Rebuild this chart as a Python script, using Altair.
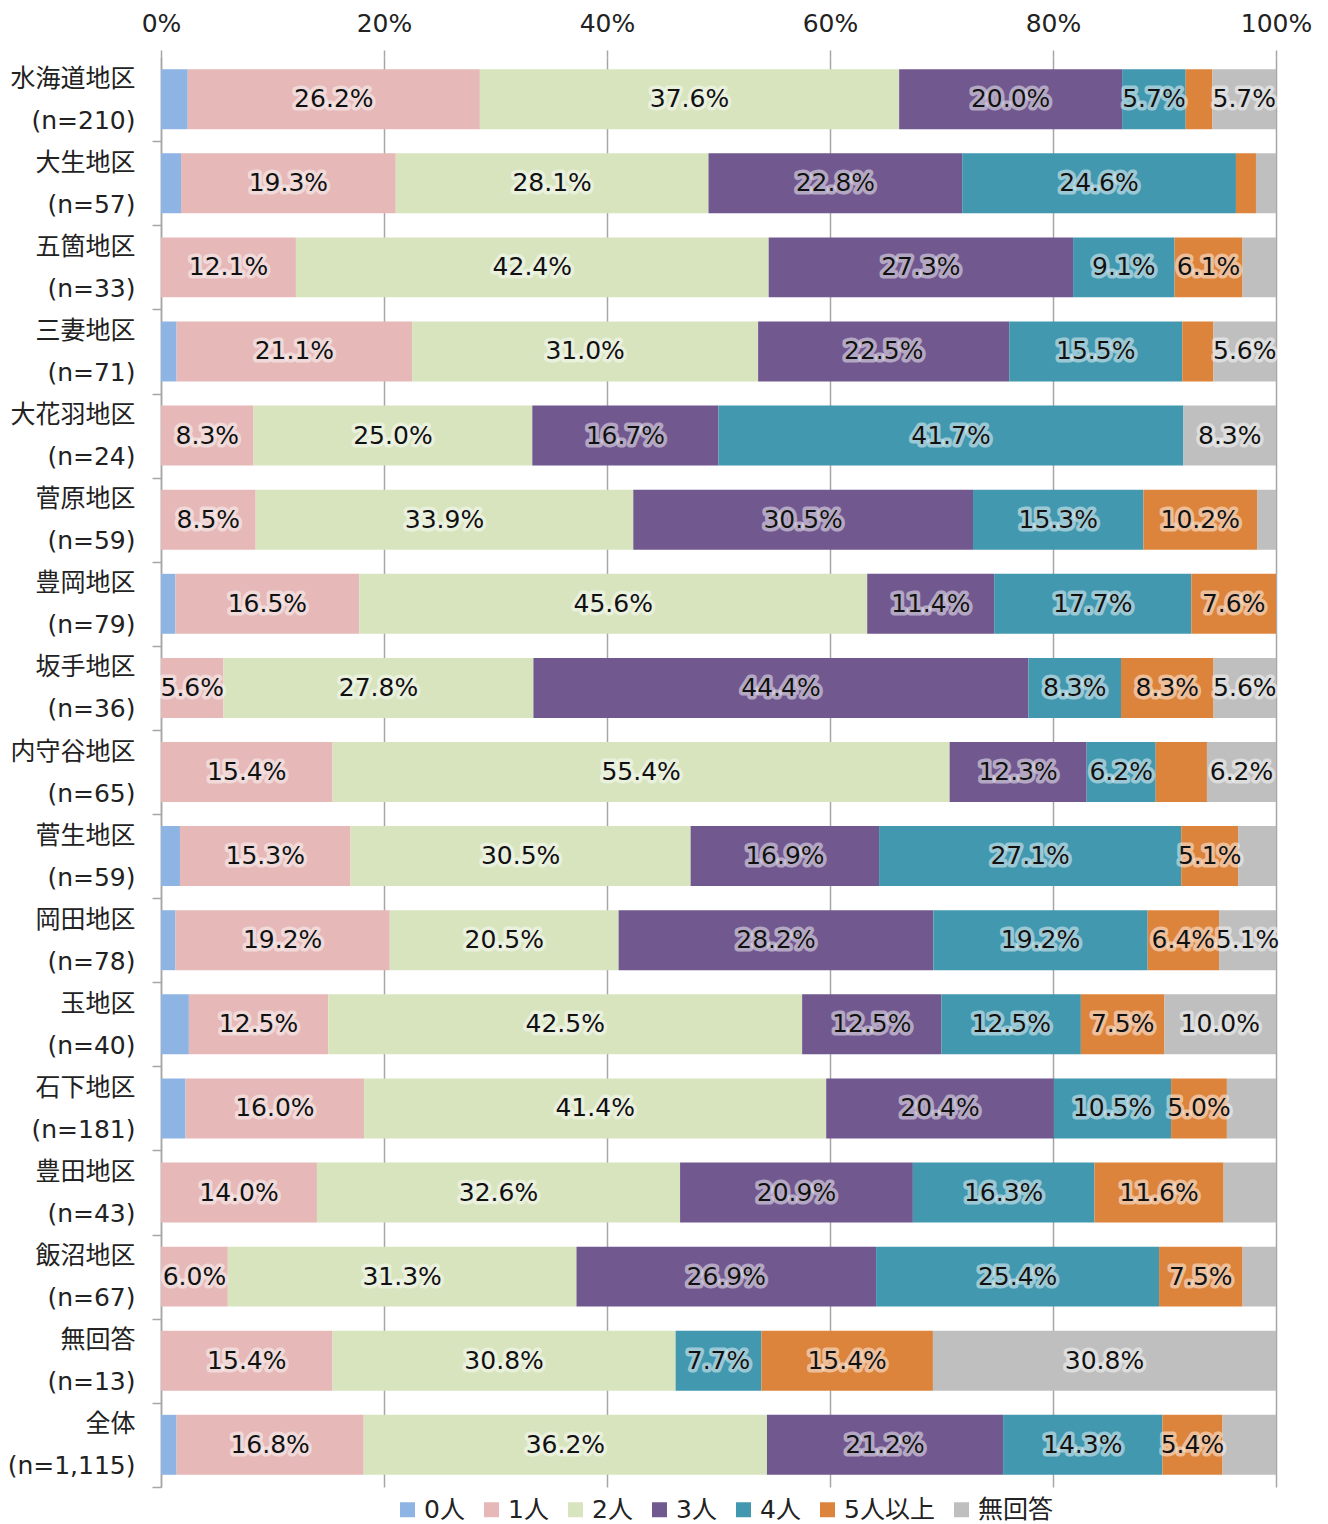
import altair as alt
import pandas as pd

districts = ["水海道地区", "大生地区", "五箇地区", "三妻地区", "大花羽地区", "菅原地区", "豊岡地区",
             "坂手地区", "内守谷地区", "菅生地区", "岡田地区", "玉地区", "石下地区", "豊田地区",
             "飯沼地区", "無回答", "全体"]
sample_sizes = ["210", "57", "33", "71", "24", "59", "79", "36", "65", "59", "78", "40", "181",
                "43", "67", "13", "1,115"]
groups = ["0人", "1人", "2人", "3人", "4人", "5人以上", "無回答"]
colors = ["#8EB4E3", "#E6B9B8", "#D7E4BD", "#71588F", "#4198AF", "#DD843C", "#BFBFBF"]

v0 = [2.4, 1.8, 0, 1.4, 0, 0, 1.3, 0, 0, 1.7, 1.3, 2.5, 2.2, 0, 0, 0, 1.4]
v1 = [26.2, 19.3, 12.1, 21.1, 8.3, 8.5, 16.5, 5.6, 15.4, 15.3, 19.2, 12.5, 16.0, 14.0, 6.0, 15.4, 16.8]
v2 = [37.6, 28.1, 42.4, 31.0, 25.0, 33.9, 45.6, 27.8, 55.4, 30.5, 20.5, 42.5, 41.4, 32.6, 31.3, 30.8, 36.2]
v3 = [20.0, 22.8, 27.3, 22.5, 16.7, 30.5, 11.4, 44.4, 12.3, 16.9, 28.2, 12.5, 20.4, 20.9, 26.9, 0, 21.2]
v4 = [5.7, 24.6, 9.1, 15.5, 41.7, 15.3, 17.7, 8.3, 6.2, 27.1, 19.2, 12.5, 10.5, 16.3, 25.4, 7.7, 14.3]
v5 = [2.4, 1.8, 6.1, 2.8, 0, 10.2, 7.6, 8.3, 4.6, 5.1, 6.4, 7.5, 5.0, 11.6, 7.5, 15.4, 5.4]
v6 = [5.7, 1.8, 3.0, 5.6, 8.3, 1.7, 0, 5.6, 6.2, 3.4, 5.1, 10.0, 4.4, 4.7, 3.0, 30.8, 4.8]

series = [v0, v1, v2, v3, v4, v5, v6]
cats = [f"{d}|(n={n})" for d, n in zip(districts, sample_sizes)]

rows = []
for i, cat in enumerate(cats):
    vals = [s[i] for s in series]
    total = sum(vals)
    cum = 0.0
    for j, g in enumerate(groups):
        v = vals[j]
        start = cum / total * 100
        cum += v
        end = cum / total * 100
        rows.append(dict(cat=cat, group=g, order=j, value=v, start=start, end=end,
                         mid=(start + end) / 2,
                         label=(f"{v:.1f}%" if v >= 5 else "")))
df = pd.DataFrame(rows)
df_bars = df[df.value > 0]
df_text = df[df.label != ""]

font = "DejaVu Sans, Noto Sans CJK JP"
gray = "#A6A6A6"
fs = 25
plot_h = 1430
step = plot_h / len(cats)

yscale = alt.Scale(domain=cats, paddingInner=0.287, paddingOuter=0.145)
y_enc = alt.Y("cat:N", scale=yscale, sort=cats, title=None,
              axis=alt.Axis(labelExpr="split(datum.label, '|')", labelLineHeight=42,
                            labelFontSize=fs, labelFont=font, labelColor="#222",
                            labelPadding=17, labelOffset=-21 - step / 2, tickSize=9,
                            tickOffset=step / 2,
                            tickColor=gray, tickWidth=1.5, domainColor=gray,
                            domainWidth=1.5, labelAlign="right", labelBaseline="middle",
                            grid=False))
xscale = alt.Scale(domain=[0, 100], nice=False)
x_enc = alt.X("start:Q", scale=xscale, title=None,
              axis=alt.Axis(orient="top", values=[0, 20, 40, 60, 80, 100],
                            labelExpr="datum.value + '%'", grid=True, gridColor=gray,
                            gridWidth=1.5, domain=False, tickSize=7, tickColor=gray,
                            tickWidth=1.5, labelFontSize=fs, labelFont=font,
                            labelColor="#222", labelPadding=14, labelFlush=False))

bars = alt.Chart(df_bars).mark_bar().encode(
    x=x_enc,
    x2="end:Q",
    y=y_enc,
    color=alt.Color("group:N", scale=alt.Scale(domain=groups, range=colors),
                    legend=alt.Legend(orient="none", legendX=234, legendY=1440,
                                      direction="horizontal", title=None,
                                      symbolType="square", symbolSize=225,
                                      symbolStrokeWidth=0, labelFontSize=fs,
                                      labelFont=font, labelColor="#222",
                                      columnPadding=14, labelOffset=4, columns=7)),
)

halo = alt.Chart(df_text).mark_text(
    font=font, fontSize=fs, color="white", stroke="white", strokeWidth=7,
    strokeOpacity=0.6, strokeJoin="round", opacity=0.8
).encode(
    x=alt.X("mid:Q", scale=xscale, title=None),
    y=alt.Y("cat:N", scale=yscale, sort=cats, title=None),
    text="label:N",
)

text = alt.Chart(df_text).mark_text(
    font=font, fontSize=fs, color="#111"
).encode(
    x=alt.X("mid:Q", scale=xscale, title=None),
    y=alt.Y("cat:N", scale=yscale, sort=cats, title=None),
    text="label:N",
)

chart = alt.layer(bars, halo, text).properties(
    width=1115, height=plot_h,
    autosize=alt.AutoSizeParams(type="none"),
    padding={"left": 161, "top": 57, "right": 52, "bottom": 37},
).configure_view(stroke=None)

chart.save("out.html", embed_options={"renderer": "svg", "actions": False})
